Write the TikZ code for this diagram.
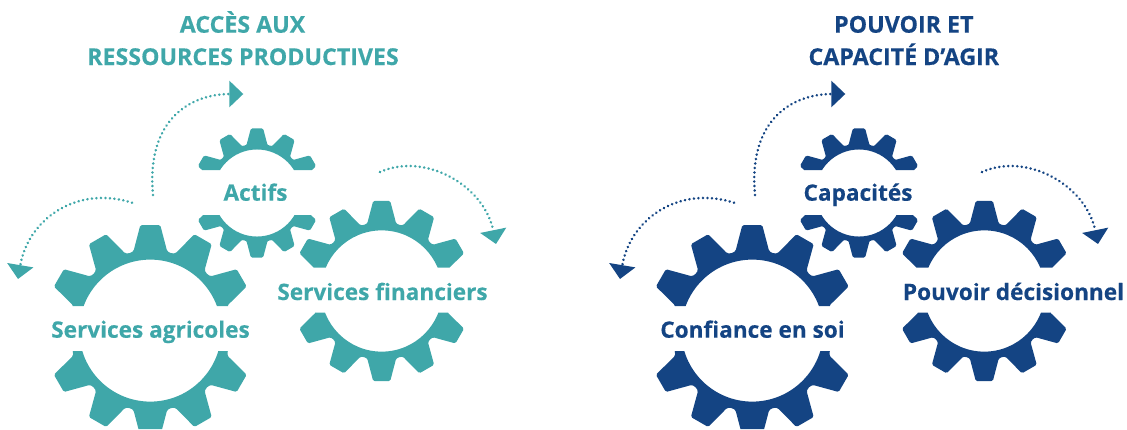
\documentclass[tikz,border=0pt]{standalone}
\usepackage{fontspec}
\setmainfont[BoldFeatures={FakeBold=0.35}]{Open Sans}
\usetikzlibrary{arrows.meta}
\definecolor{tealg}{HTML}{3FA7A9}
\definecolor{blueg}{HTML}{144483}
\newcommand{\gearshape}[6]{%
  \begin{scope}
    \clip (0,0) rectangle (1127,#4) (0,#5) rectangle (1127,429);
    \fill[#6,even odd rule,rounded corners=1.5pt,shift={(#1,#2)},scale=#3]
      (0,0) circle (71)
      (-5.4:106)
      \foreach \a in {0,30,...,330}{
        -- ({\a+5.4}:106) -- ({\a+11}:84)
        .. controls ({\a+12.5}:79.5) and ({\a+17.5}:79.5) .. ({\a+19}:84)
        -- ({\a+24.6}:106)
      } -- cycle;
  \end{scope}}
\tikzset{
  gearlabel/.style={anchor=base,inner sep=0pt,font=\bfseries\fontsize{22.6}{22.6}\selectfont},
  titlelabel/.style={anchor=base,inner sep=0pt,font=\bfseries\fontsize{23.2}{23.2}\selectfont},
  flow/.style={line width=2.8pt,line cap=round,dash pattern=on 0.01pt off 4.5pt,
    -{Triangle[length=14pt,width=26pt]}}
}
\begin{document}
\begin{tikzpicture}[x=1pt,y=-1pt]
\useasboundingbox (0,0) rectangle (1127,429);
% teal group
\gearshape{150.3}{330.6}{1}{306}{351}{tealg}
\gearshape{381.7}{291}{0.854}{267.7}{312.7}{tealg}
\gearshape{257}{193}{0.613}{170}{215}{tealg}
\node[titlelabel,text=tealg] (t1a) at (242.5,32.7) {ACCÈS AUX};
\node[titlelabel,text=tealg] (t1b) at (243,65) {RESSOURCES PRODUCTIVES};
\node[gearlabel,text=tealg] (agri) at (150.5,337.7) {Services agricoles};
\node[gearlabel,text=tealg] (fin) at (382.5,300) {Services financiers};
\node[gearlabel,text=tealg] (act) at (255.5,200.7) {Actifs};
\coordinate (a1s) at (132,202.7); \coordinate (a1e) at (18,279);
\coordinate (a2s) at (153,195); \coordinate (a2e) at (243.3,94);
\coordinate (a3s) at (380,172); \coordinate (a3e) at (496,244);
\draw[flow,tealg] (a1s) .. controls (77,185) and (28,219) .. (a1e);
\draw[flow,tealg] (a2s) .. controls (146,120) and (190,94) .. (a2e);
\draw[flow,tealg] (a3s) .. controls (425,152) and (484,185) .. (a3e);
% blue group
\gearshape{752.3}{330.6}{1}{306}{351}{blueg}
\gearshape{984.3}{291}{0.854}{267.7}{312.7}{blueg}
\gearshape{859}{193}{0.613}{170}{215}{blueg}
\node[titlelabel,text=blueg] (t2a) at (903.8,32.7) {POUVOIR ET};
\node[titlelabel,text=blueg] (t2b) at (903.8,65) {CAPACITÉ D’AGIR};
\node[gearlabel,text=blueg] (conf) at (752.5,337.7) {Confiance en soi};
\node[gearlabel,text=blueg] (pouv) at (1013.5,300) {Pouvoir décisionnel};
\node[gearlabel,text=blueg] (cap) at (858,200.7) {Capacités};
\coordinate (b1s) at (734,202.7); \coordinate (b1e) at (620,279);
\coordinate (b2s) at (755,195); \coordinate (b2e) at (845.3,94);
\coordinate (b3s) at (982,172); \coordinate (b3e) at (1098,244);
\draw[flow,blueg] (b1s) .. controls (679,185) and (630,219) .. (b1e);
\draw[flow,blueg] (b2s) .. controls (748,120) and (792,94) .. (b2e);
\draw[flow,blueg] (b3s) .. controls (1027,152) and (1086,185) .. (b3e);
\end{tikzpicture}
\end{document}
